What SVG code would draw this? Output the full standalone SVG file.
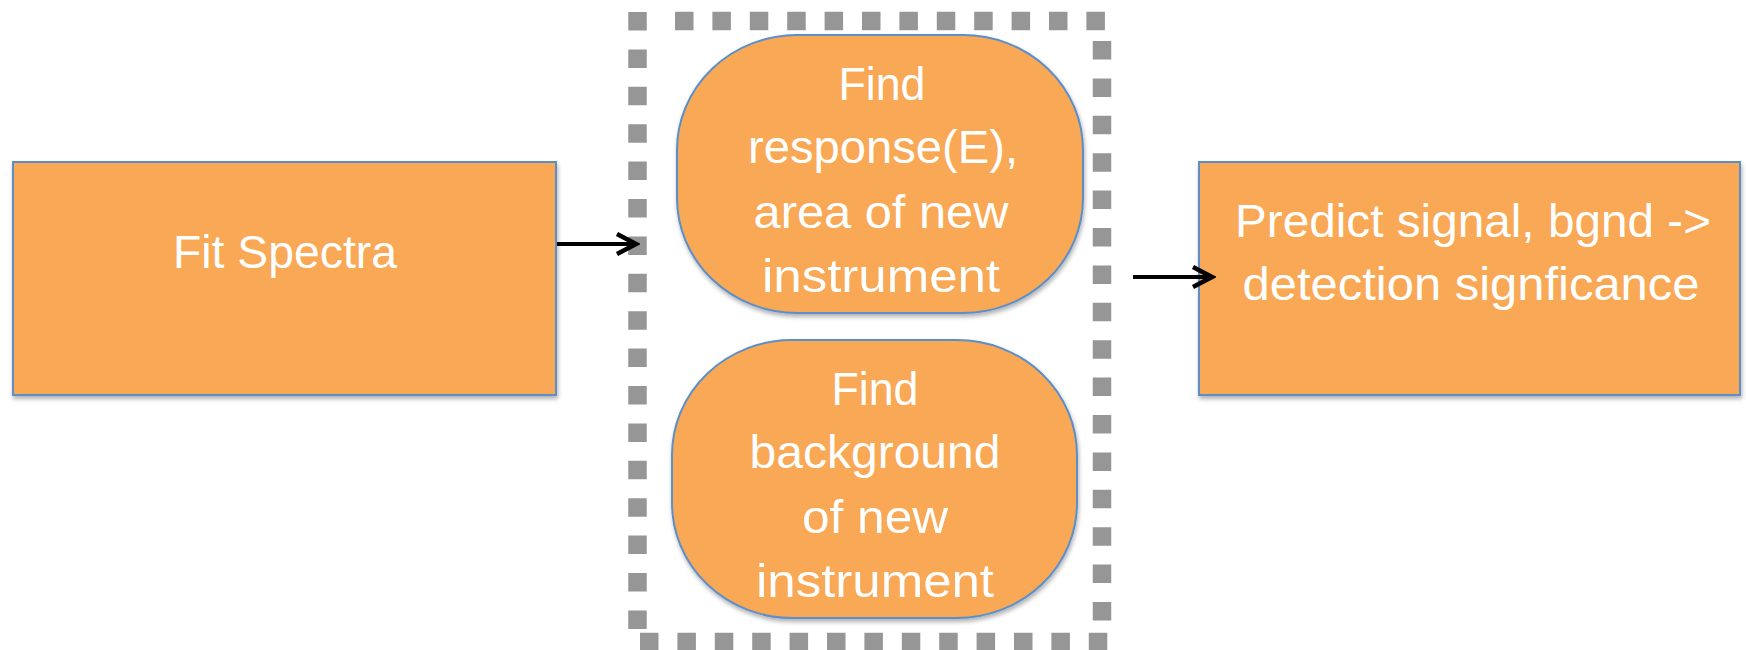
<svg xmlns="http://www.w3.org/2000/svg" width="1746" height="650" viewBox="0 0 1746 650">
<style>
.box{fill:#F9A857;stroke:#5B8FC9;stroke-width:2;filter:url(#sh);}
.t{font-family:"Liberation Sans",Arial,sans-serif;font-size:47px;fill:#FFFFFF;text-anchor:middle;}
.dash{stroke:#969696;stroke-width:18.5;stroke-dasharray:18.5 18.9;fill:none;}
.arr{stroke:#000;stroke-width:4;fill:none;marker-end:url(#ah);}
</style>
<defs>
<filter id="sh" x="-10%" y="-10%" width="120%" height="125%">
<feDropShadow dx="1" dy="3" stdDeviation="2" flood-color="#000" flood-opacity="0.3"/>
</filter>
<marker id="ah" viewBox="0 0 26 24" refX="23" refY="12" markerWidth="26" markerHeight="24" markerUnits="userSpaceOnUse" orient="auto">
<path d="M3,2 L22,12 L3,22" fill="none" stroke="#000" stroke-width="4.5"/>
</marker>
</defs>
<g id="group-border">
<line class="dash" x1="675" y1="21" x2="1111" y2="21"/>
<line class="dash" x1="637.5" y1="12" x2="637.5" y2="630"/>
<line class="dash" x1="640" y1="642" x2="1111" y2="642"/>
<line class="dash" x1="1102" y1="41" x2="1102" y2="621"/>
</g>
<g id="fit-spectra">
<rect class="box" x="13" y="162" width="543" height="233"/>
<text class="t" x="285" y="268" textLength="224" lengthAdjust="spacingAndGlyphs">Fit Spectra</text>
</g>
<g id="find-response">
<rect class="box" x="677" y="35" width="406" height="278" rx="120" ry="115"/>
<text class="t" x="882" y="100" textLength="87" lengthAdjust="spacingAndGlyphs">Find</text>
<text class="t" x="883" y="163" textLength="270" lengthAdjust="spacingAndGlyphs">response(E),</text>
<text class="t" x="881" y="228" textLength="255" lengthAdjust="spacingAndGlyphs">area of new</text>
<text class="t" x="881" y="292" textLength="238" lengthAdjust="spacingAndGlyphs">instrument</text>
</g>
<g id="find-background">
<rect class="box" x="672" y="340" width="405" height="278" rx="120" ry="115"/>
<text class="t" x="875" y="405" textLength="87" lengthAdjust="spacingAndGlyphs">Find</text>
<text class="t" x="875" y="468" textLength="251" lengthAdjust="spacingAndGlyphs">background</text>
<text class="t" x="875" y="533" textLength="146" lengthAdjust="spacingAndGlyphs">of new</text>
<text class="t" x="875" y="597" textLength="238" lengthAdjust="spacingAndGlyphs">instrument</text>
</g>
<g id="predict">
<rect class="box" x="1199" y="162" width="541" height="233"/>
<text class="t" x="1473" y="237" textLength="476" lengthAdjust="spacingAndGlyphs">Predict signal, bgnd -&gt;</text>
<text class="t" x="1471" y="300" textLength="457" lengthAdjust="spacingAndGlyphs">detection signficance</text>
</g>
<g id="connectors">
<line class="arr" x1="557" y1="244" x2="637" y2="244"/>
<line class="arr" x1="1133" y1="277" x2="1213" y2="277"/>
</g>
</svg>
